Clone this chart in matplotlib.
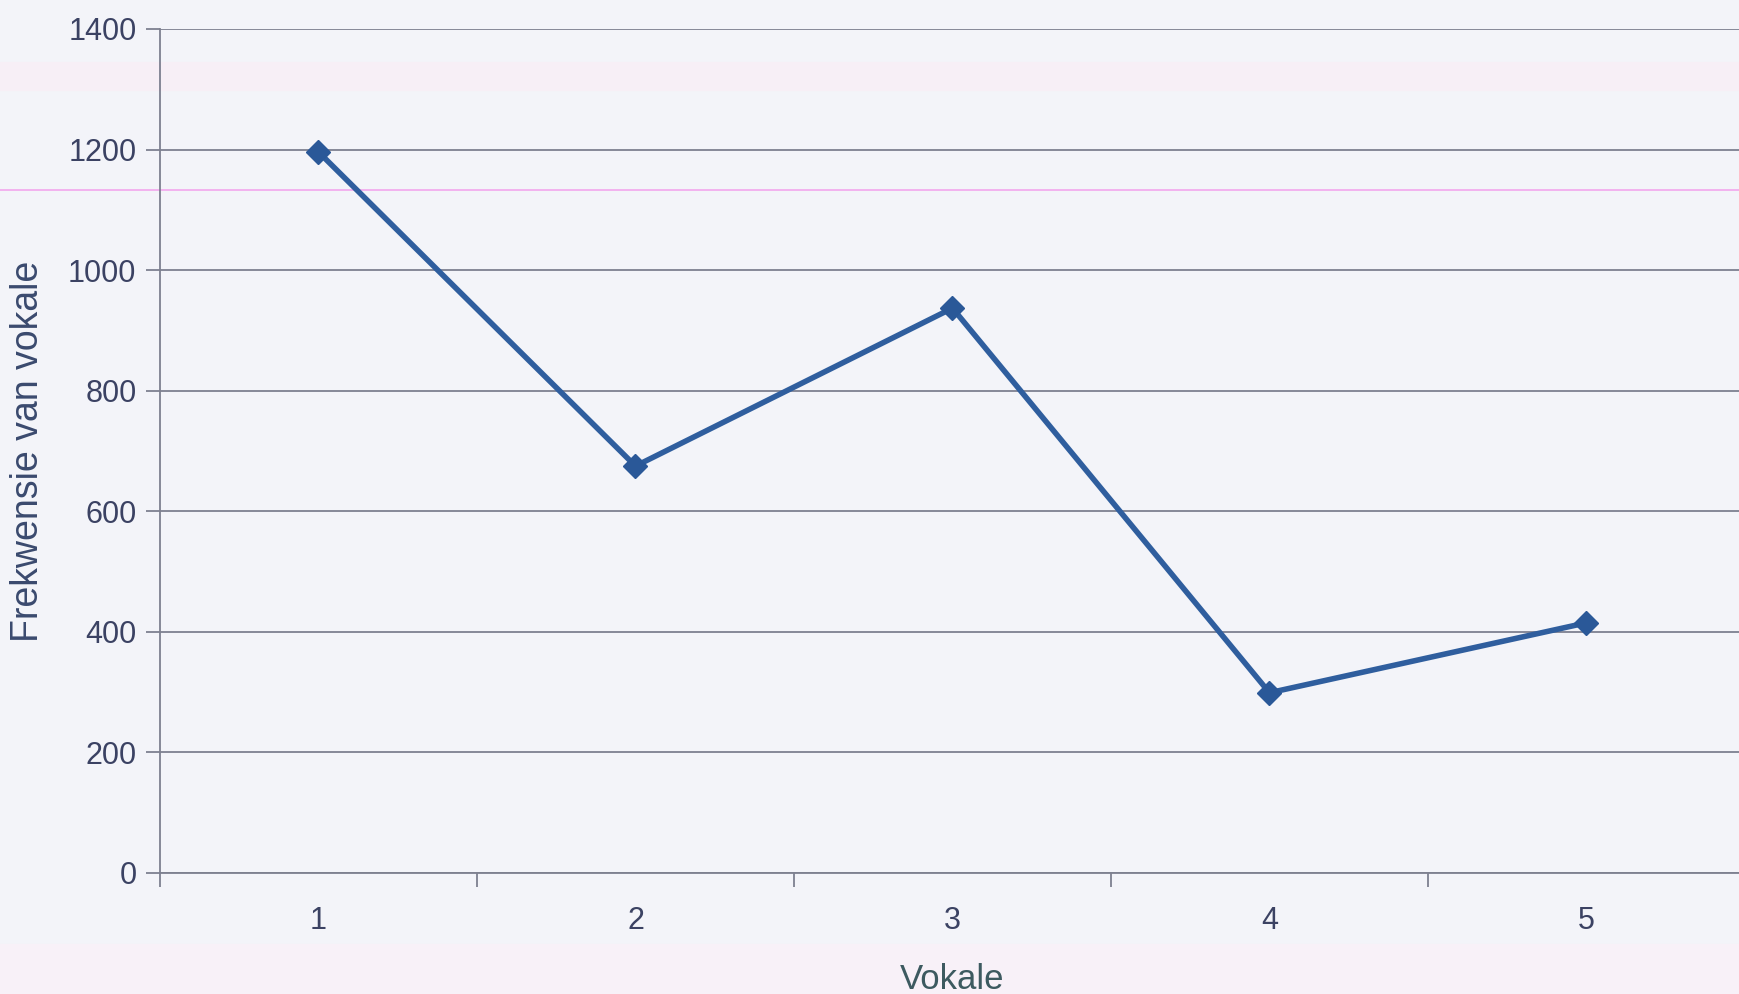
import numpy as np
import matplotlib
matplotlib.use("Agg")
import matplotlib.pyplot as plt

# data
vokale = [1, 2, 3, 4, 5]
frekwensie = [1196, 675, 937, 299, 415]
y_ticks = [0, 200, 400, 600, 800, 1000, 1200, 1400]

plt.rcParams['font.family'] = ['Liberation Sans', 'DejaVu Sans']

bg = '#f3f4f9'
text_col = '#3b4263'
grid_col = '#7d8090'

fig = plt.figure(figsize=(17.4, 9.94), dpi=100, facecolor=bg)
# axes runs slightly past the right edge, like the scanned original
ax = fig.add_axes([160 / 1740, 1 - 873 / 994, (1745 - 160) / 1740, (873 - 29) / 994])
ax.set_facecolor('none')
ax.set_zorder(2)

# faint scan artefacts (pink band / line)
fig.patches.append(plt.Rectangle((0, 1 - 90 / 994), 1, 28 / 994, transform=fig.transFigure,
                                 color='#f7eff6', zorder=-5))
fig.patches.append(plt.Rectangle((0, 0), 1, 50 / 994, transform=fig.transFigure,
                                 color='#f8f1f8', zorder=-5))
fig.lines.append(plt.Line2D([0, 1], [1 - 190 / 994] * 2, transform=fig.transFigure,
                            color='#f2a6ee', lw=1.2, zorder=-4))

ax.plot(vokale, frekwensie, color='#2f5e9e', lw=4, marker='D', ms=12,
        markerfacecolor='#2a5898', markeredgecolor='#2a5898', zorder=3)

ax.set_xlim(0.5, 5.5)
ax.set_ylim(0, 1400)
ax.set_yticks(y_ticks)
ax.set_xticks(vokale)
ax.set_xticks(np.arange(0.5, 6, 1), minor=True)
ax.yaxis.grid(True, color=grid_col, lw=1.3)
ax.set_axisbelow(True)

for s in ['top', 'right']:
    ax.spines[s].set_visible(False)
for s in ['left', 'bottom']:
    ax.spines[s].set_color(grid_col)
    ax.spines[s].set_linewidth(1.3)

ax.tick_params(axis='y', which='major', length=10, width=1.3, color=grid_col,
               labelsize=22, labelcolor=text_col, pad=7)
ax.tick_params(axis='x', which='major', length=0, labelsize=22, labelcolor=text_col, pad=24)
ax.tick_params(axis='x', which='minor', length=10, width=1.3, color=grid_col)

ax.set_ylabel('Frekwensie van vokale', fontsize=27, color='#3a4a6e')
ax.yaxis.set_label_coords(-0.072, 0.5)
ax.set_xlabel('Vokale', fontsize=25, color='#3d5a60', va='baseline')
ax.xaxis.set_label_coords(0.5, -0.138)

fig.savefig('out.png', dpi=100, facecolor=bg)
